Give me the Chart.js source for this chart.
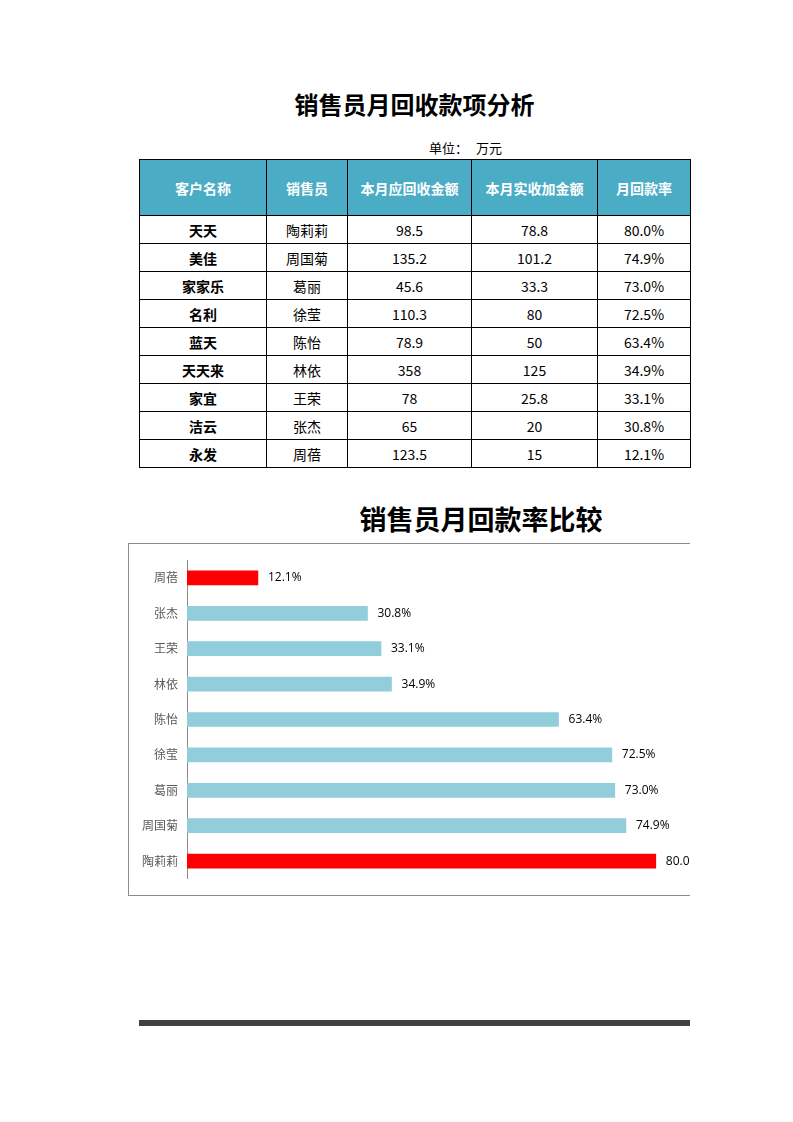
<!DOCTYPE html>
<html>
<head>
<meta charset="utf-8">
<script src="https://cdn.jsdelivr.net/npm/chart.js@4/dist/chart.umd.min.js"></script>
<style>
  body { margin: 0; background: #fff; font-family: "Noto Sans CJK SC", "Noto Sans", sans-serif; }
  #page { position: relative; width: 793px; height: 1122px; overflow: hidden; }
  #title { position: absolute; left: 139px; width: 551px; top: 86px; text-align: center; font-size: 24px; font-weight: bold; color: #000; }
  #unit { position: absolute; left: 429px; top: 138px; font-size: 13px; color: #000; }
  #unit span { margin-left: 8px; }
  table { position: absolute; left: 139px; top: 159px; border-collapse: collapse; table-layout: fixed; width: 551px; }
  td, th { border: 1px solid #000; text-align: center; font-size: 14px; padding: 0; }
  th { background: #4BACC6; color: #fff; height: 55px; font-weight: bold; }
  td { height: 27px; color: #000; }
  td.name { font-weight: bold; }
  #chartTitle { position: absolute; left: 128px; width: 706px; top: 499px; text-align: center; font-size: 27px; font-weight: bold; color: #000; }
  #clip { position: absolute; left: 128px; top: 543px; width: 562px; height: 353px; overflow: hidden; }
  #box { position: absolute; left: 0; top: 0; width: 706px; height: 351px; border: 1px solid #8c8c8c; }
  #bottomBar { position: absolute; left: 139px; top: 1020px; width: 551px; height: 6px; background: #404040; }
</style>
</head>
<body>
<div id="page">
  <div id="title">销售员月回收款项分析</div>
  <div id="unit">单位：<span>万元</span></div>
  <table id="tbl">
    <colgroup>
      <col style="width:127px"><col style="width:81px"><col style="width:124px"><col style="width:126px"><col style="width:93px">
    </colgroup>
    <thead>
      <tr><th>客户名称</th><th>销售员</th><th>本月应回收金额</th><th>本月实收加金额</th><th>月回款率</th></tr>
    </thead>
    <tbody id="tbody"></tbody>
  </table>
  <div id="chartTitle">销售员月回款率比较</div>
  <div id="clip">
    <div id="box"><canvas id="rate-chart" width="706" height="351"></canvas></div>
  </div>
  <div id="bottomBar"></div>
</div>
<script>
var customers = ['天天', '美佳', '家家乐', '名利', '蓝天', '天天来', '家宜', '洁云', '永发'];
var salespeople = ['陶莉莉', '周国菊', '葛丽', '徐莹', '陈怡', '林依', '王荣', '张杰', '周蓓'];
var dueAmounts = ['98.5', '135.2', '45.6', '110.3', '78.9', '358', '78', '65', '123.5'];
var receivedAmounts = ['78.8', '101.2', '33.3', '80', '50', '125', '25.8', '20', '15'];
var rates = [80.0, 74.9, 73.0, 72.5, 63.4, 34.9, 33.1, 30.8, 12.1];

// table
var tbody = document.getElementById('tbody');
for (var i = 0; i < customers.length; i++) {
  var tr = document.createElement('tr');
  tr.innerHTML = '<td class="name">' + customers[i] + '</td><td>' + salespeople[i] + '</td><td>' +
    dueAmounts[i] + '</td><td>' + receivedAmounts[i] + '</td><td>' + rates[i].toFixed(1) + '%</td>';
  tbody.appendChild(tr);
}

// highest and lowest rates in red
var maxRate = Math.max.apply(null, rates);
var minRate = Math.min.apply(null, rates);
var barColors = rates.map(function (r) {
  return (r === maxRate || r === minRate) ? '#FF0000' : '#92CDDC';
});

var barLabels = {
  id: 'barLabels',
  afterDatasetsDraw: function (chart) {
    var ctx = chart.ctx;
    var meta = chart.getDatasetMeta(0);
    ctx.save();
    ctx.font = '12px "Open Sans", "Noto Sans", sans-serif';
    ctx.fillStyle = '#000';
    ctx.textBaseline = 'middle';
    ctx.textAlign = 'left';
    meta.data.forEach(function (bar, i) {
      ctx.fillText(rates[i].toFixed(1) + '%', bar.x + 10, bar.y);
    });
    ctx.restore();
  }
};

var rateChart = new Chart(document.getElementById('rate-chart').getContext('2d'), {
  type: 'bar',
  data: {
    labels: salespeople,
    datasets: [{
      label: '月回款率',
      data: rates,
      backgroundColor: barColors,
      barThickness: 14
    }]
  },
  options: {
    indexAxis: 'y',
    responsive: false,
    animation: false,
    layout: { padding: { top: 13, bottom: 14, left: 0, right: 62 } },
    plugins: {
      legend: { display: false },
      tooltip: { enabled: false }
    },
    scales: {
      x: {
        display: false,
        min: 0,
        max: 100
      },
      y: {
        reverse: true,
        grid: { display: false, drawTicks: false },
        border: { display: true, color: '#8c8c8c' },
        ticks: {
          color: '#595959',
          padding: 9,
          font: { size: 12, family: '"Noto Sans CJK SC", sans-serif' }
        },
        afterFit: function (scale) { scale.width = 58; }
      }
    }
  },
  plugins: [barLabels]
});
</script>
</body>
</html>
